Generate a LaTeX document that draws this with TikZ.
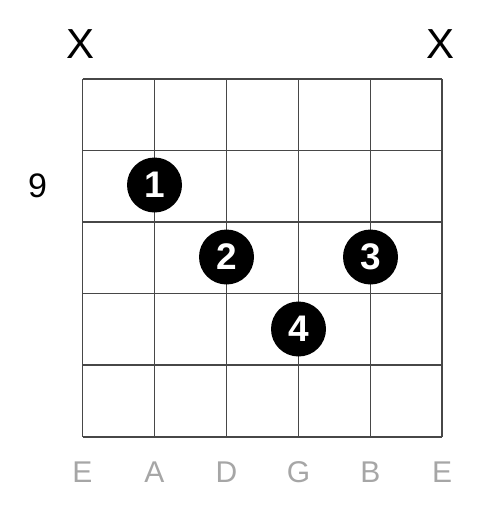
\documentclass[tikz,border=0pt]{standalone}
\usepackage{fontspec}
\setmainfont{Liberation Sans}
\begin{document}
\begin{tikzpicture}[x=1pt,y=-1pt,
  gridline/.style={draw=black!72,line width=1.8pt},
  fingerdot/.style={circle,fill=black,minimum size=55pt,inner sep=0pt,text=white,font=\fontsize{37}{37}\selectfont\bfseries},
  mute/.style={font=\fontsize{42}{42}\selectfont},
  fretnum/.style={font=\fontsize{34}{34}\selectfont},
  strname/.style={text=black!35,font=\fontsize{30}{30}\selectfont}]
\useasboundingbox (0,0) rectangle (490,506);
\foreach \i/\x in {0/82.5,1/154.5,2/226.5,3/298.5,4/370.5,5/442}
  \draw[gridline] (\x,79) -- (\x,437);
\foreach \y in {79,150.5,222,293.5,365,437}
  \draw[gridline] (82.5,\y) -- (442,\y);
\node[mute] (m1) at (81,44) {X};
\node[mute] (m6) at (441,44) {X};
\node[fretnum] (f9) at (37.5,186) {9};
\node[fingerdot] (d1) at (154.5,185) {1};
\node[fingerdot] (d2) at (226.5,257) {2};
\node[fingerdot] (d3) at (370.5,257) {3};
\node[fingerdot] (d4) at (298.5,329) {4};
\foreach \n/\x/\t in {s1/82.5/E,s2/154.5/A,s3/226.5/D,s4/298.5/G,s5/370.5/B,s6/442/E}
  \node[strname] (\n) at (\x,472) {\t};
\end{tikzpicture}
\end{document}
